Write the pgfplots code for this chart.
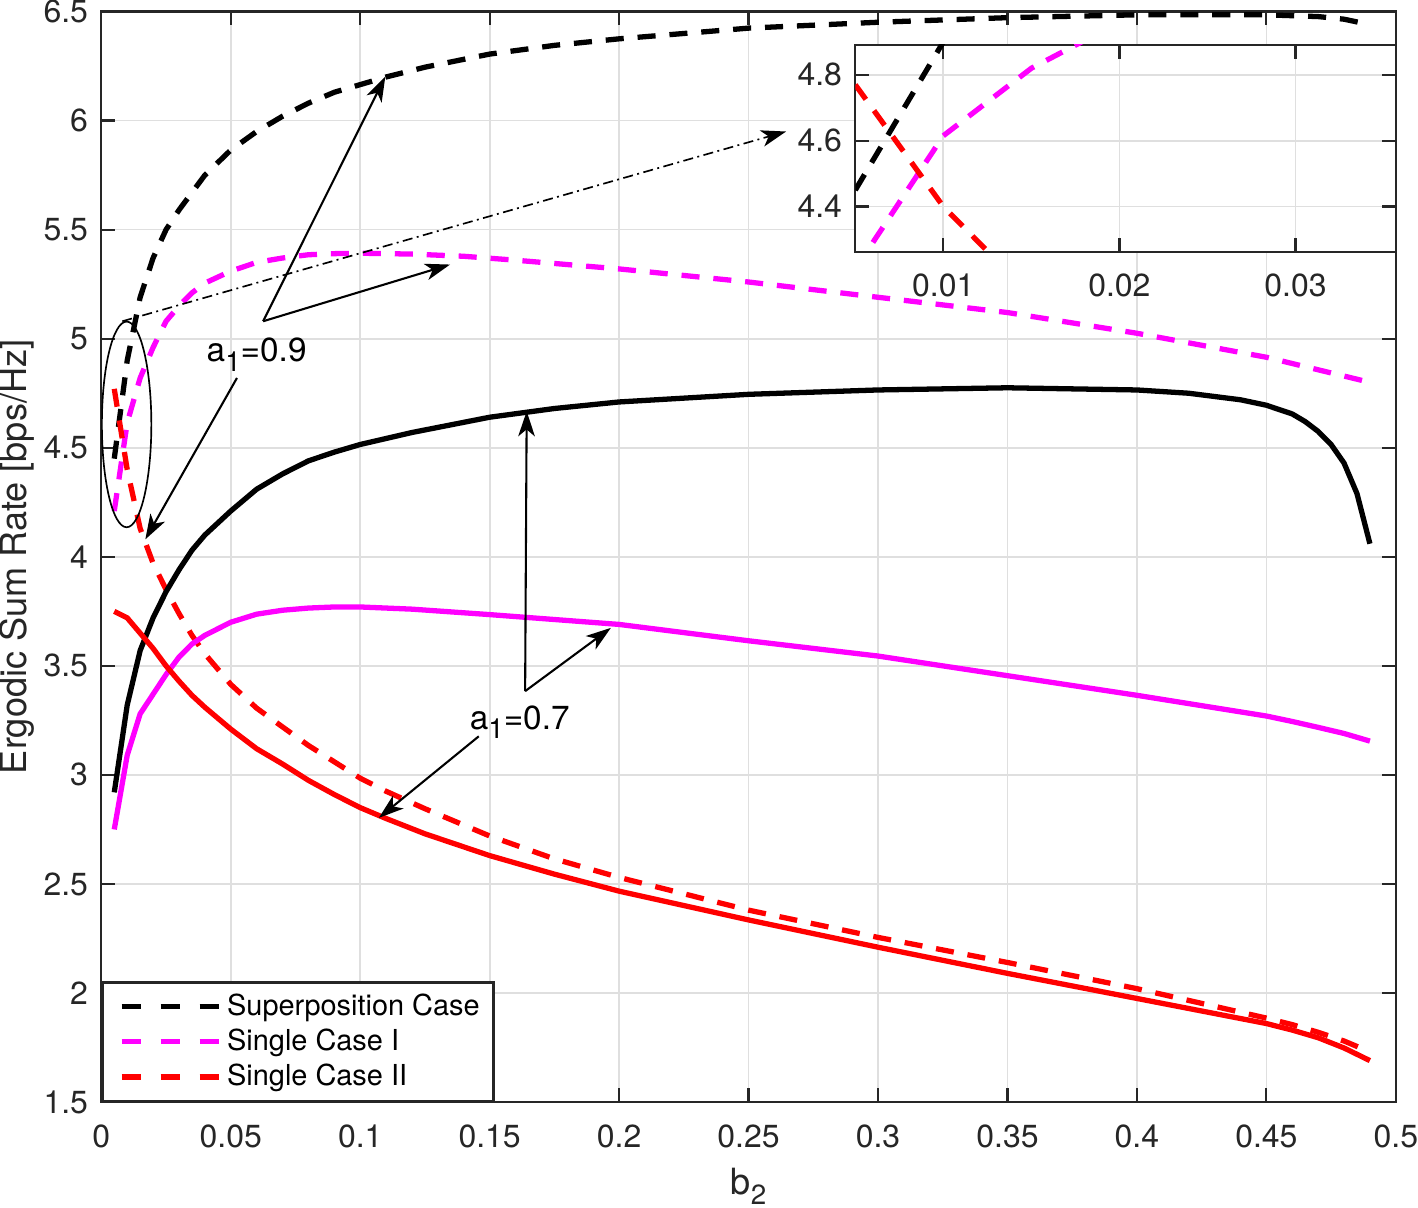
\documentclass[border=0pt]{standalone}
\usepackage{fontspec}
\setmainfont{TeX Gyre Heros}
\usepackage{pgfplots}
\usepackage{pgfplotstable}
\pgfplotsset{compat=1.18}
\usetikzlibrary{arrows.meta}
\definecolor{axgray}{HTML}{262626}
\definecolor{gridgray}{HTML}{DFDFDF}
\definecolor{mymagenta}{rgb}{1,0,1}
\definecolor{myred}{rgb}{1,0,0}
\newcommand{\sub}[1]{\raisebox{-0.55ex}{\fontsize{10}{11}\selectfont #1}}

\pgfplotstableread{
x y
0.005 4.45
0.010 4.90
0.015 5.19
0.020 5.37
0.025 5.50
0.030 5.59
0.035 5.67
0.040 5.75
0.050 5.865
0.060 5.95
0.070 6.02
0.080 6.08
0.090 6.13
0.100 6.165
0.110 6.20
0.125 6.245
0.150 6.305
0.175 6.345
0.200 6.375
0.250 6.424
0.300 6.451
0.350 6.472
0.400 6.485
0.450 6.485
0.470 6.477
0.480 6.465
0.490 6.44
}\supdash

\pgfplotstableread{
x y
0.005 4.21
0.010 4.615
0.015 4.82
0.020 4.96
0.025 5.08
0.030 5.15
0.035 5.21
0.040 5.255
0.050 5.31
0.060 5.35
0.070 5.37
0.080 5.385
0.090 5.39
0.100 5.392
0.120 5.388
0.140 5.378
0.160 5.36
0.180 5.34
0.200 5.32
0.250 5.26
0.300 5.19
0.350 5.12
0.400 5.025
0.450 4.915
0.490 4.80
}\singleIdash

\pgfplotstableread{
x y
0.005 4.77
0.010 4.40
0.015 4.13
0.020 3.97
0.025 3.85
0.030 3.74
0.035 3.64
0.040 3.555
0.050 3.415
0.060 3.306
0.070 3.22
0.080 3.135
0.090 3.06
0.100 2.985
0.110 2.925
0.125 2.845
0.150 2.72
0.175 2.615
0.200 2.53
0.250 2.38
0.300 2.255
0.350 2.14
0.400 2.02
0.450 1.885
0.460 1.855
0.470 1.82
0.480 1.78
0.490 1.73
}\singleIIdash

\pgfplotstableread{
x y
0.005 2.92
0.010 3.32
0.015 3.57
0.020 3.72
0.025 3.84
0.030 3.94
0.035 4.03
0.040 4.10
0.050 4.21
0.060 4.31
0.070 4.38
0.080 4.44
0.090 4.48
0.100 4.515
0.120 4.57
0.150 4.64
0.175 4.68
0.200 4.71
0.250 4.745
0.300 4.765
0.350 4.775
0.400 4.765
0.420 4.75
0.440 4.72
0.450 4.695
0.460 4.655
0.465 4.62
0.470 4.575
0.475 4.515
0.480 4.43
0.485 4.29
0.490 4.06
}\supsolid

\pgfplotstableread{
x y
0.005 2.75
0.010 3.09
0.015 3.28
0.020 3.37
0.025 3.46
0.030 3.54
0.035 3.60
0.040 3.64
0.050 3.70
0.060 3.737
0.070 3.755
0.080 3.765
0.090 3.77
0.100 3.77
0.120 3.76
0.150 3.735
0.200 3.69
0.250 3.615
0.300 3.545
0.350 3.455
0.400 3.365
0.450 3.27
0.460 3.245
0.470 3.218
0.480 3.19
0.490 3.155
}\singleIsolid

\pgfplotstableread{
x y
0.005 3.75
0.010 3.72
0.015 3.65
0.020 3.58
0.025 3.50
0.030 3.43
0.035 3.365
0.040 3.31
0.050 3.21
0.060 3.12
0.070 3.05
0.080 2.975
0.090 2.91
0.100 2.85
0.110 2.80
0.125 2.73
0.150 2.63
0.175 2.545
0.200 2.467
0.250 2.335
0.300 2.21
0.350 2.09
0.400 1.975
0.450 1.86
0.460 1.83
0.470 1.795
0.480 1.748
0.490 1.69
}\singleIIsolid

\pgfplotsset{
  mystyle/.style={
    scale only axis,
    grid=major,
    major grid style={gridgray, line width=0.6pt},
    axis line style={axgray, line width=0.8pt},
    tick style={axgray, line width=0.8pt},
    tick align=inside,
    major tick length=5pt,
    scaled ticks=false,
    tick label style={font=\fontsize{11.5}{13}\selectfont, text=axgray, inner sep=0pt},
    /pgf/number format/assume math mode=true,
    xticklabel style={/pgf/number format/fixed, /pgf/number format/precision=2, anchor=north, yshift=-7.9pt},
    yticklabel style={/pgf/number format/fixed, /pgf/number format/precision=2, anchor=east, xshift=-4.6pt},
  },
  dashedcurve/.style={line width=1.9pt, dash pattern=on 6.5pt off 5pt},
  solidcurve/.style={line width=1.9pt},
}

\begin{document}
\begin{tikzpicture}
\begin{axis}[
  mystyle,
  width=465.8pt, height=392.4pt,
  xmin=0, xmax=0.5, ymin=1.5, ymax=6.5,
  xtick={0,0.05,0.1,0.15,0.2,0.25,0.3,0.35,0.4,0.45,0.5},
  ytick={1.5,2,2.5,3,3.5,4,4.5,5,5.5,6,6.5},
  xlabel={b\sub{2}},
  ylabel={Ergodic Sum Rate [bps/Hz]},
  xlabel style={at={(axis description cs:0.5,-0.0845)}, anchor=base, inner xsep=0pt, inner ysep=1.2pt,
    font=\fontsize{13}{14}\selectfont, text=axgray},
  ylabel style={at={(axis description cs:-0.0648,0.5)}, anchor=center, inner sep=0pt,
    font=\fontsize{13}{14}\selectfont, text=axgray},
  legend cell align=left,
  legend style={at={(0,0)}, anchor=south west, draw=axgray, line width=0.8pt,
    font=\fontsize{10.4}{12}\selectfont, inner xsep=3pt, inner ysep=2pt,
    row sep=-0.6pt, text=black},
  legend image code/.code={\path (0pt,0pt); \draw[#1, dash pattern=on 7pt off 7pt] (3pt,0pt) -- (38pt,0pt);},
]
\addplot[black, dashedcurve] table {\supdash};
\addlegendentry{Superposition Case}
\addplot[mymagenta, dashedcurve] table {\singleIdash};
\addlegendentry{Single Case I}
\addplot[myred, dashedcurve] table {\singleIIdash};
\addlegendentry{Single Case II}
\addplot[black, solidcurve, forget plot] table {\supsolid};
\addplot[mymagenta, solidcurve, forget plot] table {\singleIsolid};
\addplot[myred, solidcurve, forget plot] table {\singleIIsolid};

% annotations
\draw[black, line width=0.6pt] (axis cs:0.00977,4.607) ellipse [x radius=8.9pt, y radius=37pt];
\draw[black, line width=0.6pt, dash pattern=on 3.6pt off 1.6pt on 0.7pt off 1.6pt,
  -{Stealth[length=9pt, width=6pt, inset=2.5pt]}] (axis cs:0.0081,5.08) -- (axis cs:0.2645,5.95);
\draw[black, line width=0.75pt, -{Stealth[length=9pt, width=6pt, inset=2.5pt]}]
  (axis cs:0.0625,5.08) -- (axis cs:0.1097,6.202);
\draw[black, line width=0.75pt, -{Stealth[length=9pt, width=6pt, inset=2.5pt]}]
  (axis cs:0.0625,5.08) -- (axis cs:0.1347,5.34);
\draw[black, line width=0.75pt, -{Stealth[length=9pt, width=6pt, inset=2.5pt]}]
  (axis cs:0.0524,4.82) -- (axis cs:0.0170,4.08);
\draw[black, line width=0.75pt, -{Stealth[length=9pt, width=6pt, inset=2.5pt]}]
  (axis cs:0.1637,3.384) -- (axis cs:0.1643,4.667);
\draw[black, line width=0.75pt, -{Stealth[length=9pt, width=6pt, inset=2.5pt]}]
  (axis cs:0.1637,3.384) -- (axis cs:0.1968,3.674);
\draw[black, line width=0.75pt, -{Stealth[length=9pt, width=6pt, inset=2.5pt]}]
  (axis cs:0.1458,3.177) -- (axis cs:0.1072,2.803);
\node[anchor=base west, inner sep=0pt, font=\fontsize{12}{13}\selectfont] at (axis cs:0.0405,4.896) {a\sub{1}=0.9};
\node[anchor=base west, inner sep=0pt, font=\fontsize{12}{13}\selectfont] at (axis cs:0.1421,3.209) {a\sub{1}=0.7};
\end{axis}

\begin{axis}[
  mystyle,
  at={(465.8pt,380.4pt)}, anchor=north east,
  width=194.5pt, height=74.4pt,
  xmin=0.005, xmax=0.0357, ymin=4.263, ymax=4.891,
  xtick={0.01,0.02,0.03},
  ytick={4.4,4.6,4.8},
  axis background/.style={fill=white},
]
\addplot[black, dashedcurve] table {\supdash};
\addplot[mymagenta, dashedcurve] table {\singleIdash};
\addplot[myred, dashedcurve] table {\singleIIdash};
\end{axis}
\end{tikzpicture}
\end{document}
